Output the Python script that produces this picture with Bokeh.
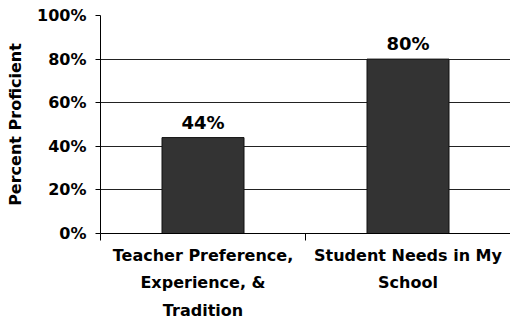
from bokeh.plotting import figure
from bokeh.models import Range1d, FixedTicker, NumeralTickFormatter, ColumnDataSource
from bokeh.core.properties import value
from bokeh.embed import file_html
from bokeh.resources import INLINE

categories = ["Teacher Preference,\nExperience, &\nTradition", "Student Needs in My\nSchool"]
values = [0.44, 0.80]
y_ticks = [0, 0.2, 0.4, 0.6, 0.8, 1.0]

FONT = "DejaVu Sans"

xs = [i + 0.5 for i in range(len(categories))]
src = ColumnDataSource(dict(x=xs, top=values, label=[f"{round(v*100)}%" for v in values]))

p = figure(width=510, height=322, output_backend="svg", toolbar_location=None,
           x_range=Range1d(0, len(categories)), y_range=Range1d(0, 1))
p.min_border_left = 100
p.min_border_right = 0
p.min_border_top = 15
p.min_border_bottom = 88
p.outline_line_color = None
p.background_fill_color = "white"
p.border_fill_color = "white"

p.vbar(x="x", top="top", width=0.4, bottom=0, source=src,
       fill_color="#333333", line_color="#111111", line_width=1)
p.text(x="x", y="top", text="label", source=src, text_align="center",
       text_baseline="bottom", y_offset=-5, text_font=value(FONT),
       text_font_style="bold", text_font_size="18px", text_color="black")

# y axis
p.yaxis.ticker = FixedTicker(ticks=y_ticks)
p.yaxis.formatter = NumeralTickFormatter(format="0%")
p.yaxis.major_tick_in = 0
p.yaxis.major_tick_out = 5
p.yaxis.minor_tick_line_color = None
p.yaxis.axis_line_color = "black"
p.yaxis.major_tick_line_color = "black"
p.yaxis.major_label_text_font = FONT
p.yaxis.major_label_text_font_style = "bold"
p.yaxis.major_label_text_font_size = "16px"
p.yaxis.major_label_text_color = "black"
p.yaxis.major_label_standoff = 9
p.yaxis.axis_label = "Percent Proficient"
p.yaxis.axis_label_text_font = FONT
p.yaxis.axis_label_text_font_style = "bold"
p.yaxis.axis_label_text_font_size = "16px"
p.yaxis.axis_label_text_color = "black"
p.yaxis.axis_label_standoff = 9

# x axis
p.xaxis.ticker = FixedTicker(ticks=xs, minor_ticks=list(range(len(categories) + 1)))
p.xaxis.major_label_overrides = {x: c for x, c in zip(xs, categories)}
p.xaxis.major_tick_line_color = None
p.xaxis.minor_tick_in = 0
p.xaxis.minor_tick_out = 7
p.xaxis.minor_tick_line_color = "black"
p.xaxis.axis_line_color = "black"
p.xaxis.major_label_text_font = FONT
p.xaxis.major_label_text_font_style = "bold"
p.xaxis.major_label_text_font_size = "16px"
p.xaxis.major_label_text_color = "black"
p.xaxis.major_label_text_line_height = 1.45
p.xaxis.major_label_standoff = 5

p.xgrid.grid_line_color = None
p.ygrid.ticker = FixedTicker(ticks=y_ticks)
p.ygrid.grid_line_color = "#222222"
p.ygrid.grid_line_width = 1

open("out.html", "w").write(file_html(p, INLINE))
